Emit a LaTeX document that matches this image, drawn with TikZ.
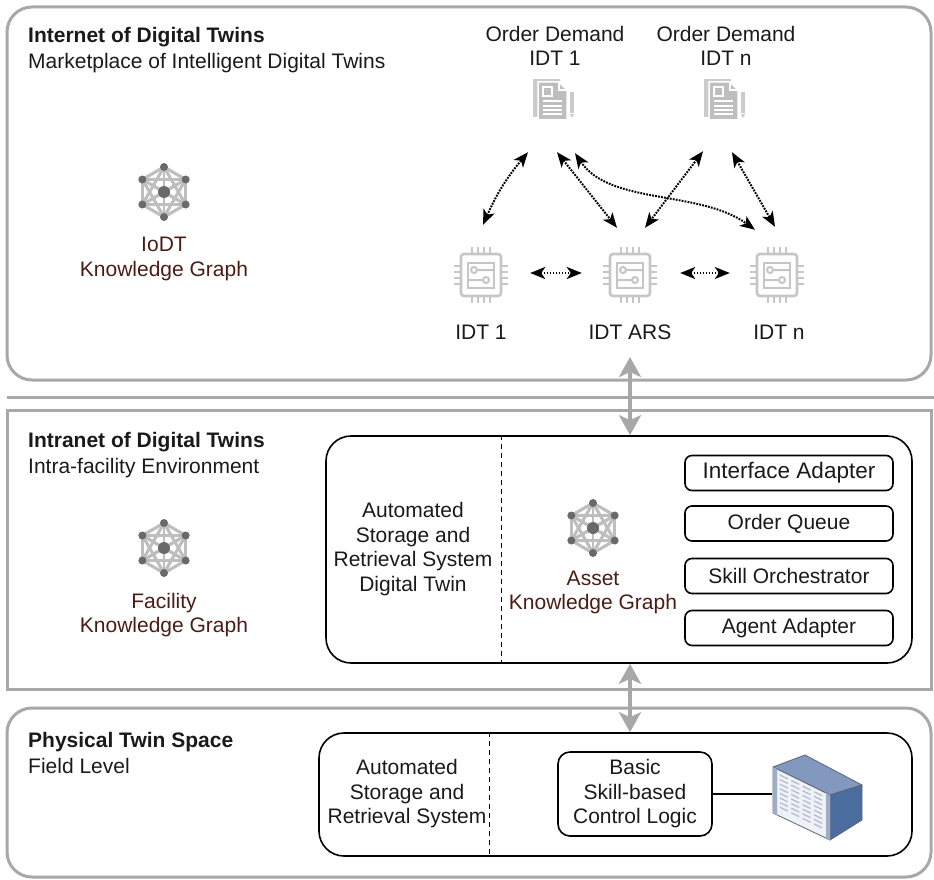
\documentclass[tikz,border=0pt]{standalone}
\usepackage{fontspec}
\setmainfont{Liberation Sans}
\usetikzlibrary{arrows.meta,calc}

\definecolor{boxgray}{HTML}{A8A8A8}
\definecolor{icongray}{HTML}{C6C6C6}
\definecolor{docback}{HTML}{CBCBCB}
\definecolor{docfront}{HTML}{BEBEBE}
\definecolor{kgedge}{HTML}{BEBEBE}
\definecolor{kgnode}{HTML}{696969}
\definecolor{kgtext}{HTML}{4B1C14}
\definecolor{txt}{HTML}{1A1A1A}
\definecolor{srvtop}{HTML}{8398BF}
\definecolor{srvside}{HTML}{4A6C9E}
\definecolor{srvfront}{HTML}{EEF1F6}
\definecolor{srvvent}{HTML}{B4BDCF}
\definecolor{srvedge}{HTML}{5C6675}

\tikzset{
  plain/.style={font=\fontsize{21}{24.5}\selectfont, text=txt, inner sep=0pt},
  layertitle/.style={plain, font=\fontsize{21}{24.5}\selectfont\bfseries, anchor=base west},
  layersub/.style={plain, anchor=base west},
  txtc/.style={plain, align=center},
  kgtxt/.style={plain, align=center, text=kgtext},
  layerbox/.style={draw=boxgray, line width=3pt},
  panel/.style={draw=black, line width=1.6pt, rounded corners=25pt, inner sep=0pt},
  module/.style={plain, draw=black, line width=1.6pt, rounded corners=7pt,
    minimum width=208pt, minimum height=35pt},
  divider/.style={black, line width=1.4pt, dash pattern=on 5pt off 4pt},
  link/.style={black, line width=2pt, dash pattern=on 1.8pt off 1.2pt,
    {Stealth[length=15pt,width=12pt,inset=4pt]}-{Stealth[length=15pt,width=12pt,inset=4pt]}},
  port/.style={boxgray, line width=4pt,
    {Stealth[length=20pt,width=22pt,inset=5pt]}-{Stealth[length=20pt,width=22pt,inset=5pt]}},
  spot/.style={inner sep=0pt, minimum width=#1, minimum height=#1},
  % knowledge graph glyph: hexagon with every pair of vertices joined
  kgicon/.pic={
    \foreach \i in {0,...,5}{
      \foreach \j in {0,...,5}{
        \draw[kgedge, line width=2.8pt] ({90+60*\i}:25) -- ({90+60*\j}:25);
      }
      \draw[kgedge, line width=2.8pt] (0,0) -- ({90+60*\i}:25);
    }
    \foreach \i in {0,...,5}{\fill[kgnode] ({90+60*\i}:25) circle (4pt);}
    \fill[kgnode] (0,0) circle (6pt);
  },
  % microchip glyph
  chipicon/.pic={
    \draw[icongray, line width=2.6pt, rounded corners=3pt] (-20,-21) rectangle (20,21);
    \foreach \t in {-9,-3,3,9}{
      \draw[icongray, line width=2.2pt] (\t,-21) -- (\t,-28) (\t,21) -- (\t,28)
        (-20,\t) -- (-27,\t) (20,\t) -- (27,\t);
    }
    \draw[icongray, line width=2.2pt] (-13,-12) rectangle (13,13);
    \draw[icongray, line width=2pt] (-7,-5) circle (3pt) (-4,-5) -- (13,-5)
      (5,5) circle (3pt) (-13,5) -- (2,5);
  },
  % document glyph
  docicon/.pic={
    \fill[docback] (-20,-19) rectangle (7,19);
    \filldraw[fill=docfront, draw=white, line width=1.5pt]
      (-15,-16) -- (6,-16) -- (14,-8) -- (14,22) -- (-15,22) -- cycle;
    \draw[white, line width=1.2pt] (6,-16) -- (6,-8) -- (14,-8);
    \draw[white, line width=1.2pt] (-10,-11) rectangle (-1,-2);
    \foreach \yy in {3,8,12,16}{\draw[white, line width=1.3pt] (-10,\yy) -- (9,\yy);}
    \fill[docback] (17,-6) rectangle (21,15);
    \fill[docback] (17,16) -- (21,16) -- (19,20) -- cycle;
  },
}

\begin{document}
\begin{tikzpicture}[x=1pt,y=-1pt]
\useasboundingbox (0,0) rectangle (934,880);

% ---------- layer frames ----------
\draw[layerbox, rounded corners=25pt] (7,7) rectangle (931,380);
\draw[layerbox] (7,397) -- (934,397);
\draw[layerbox] (7,410) rectangle (931,689);
\draw[layerbox, rounded corners=25pt] (7,708) rectangle (931,877);

% ---------- Internet of Digital Twins ----------
\node[layertitle] (t1) at (28,43) {Internet of Digital Twins};
\node[layersub] (s1) at (28,69) {Marketplace of Intelligent Digital Twins};

\pic at (164,192) {kgicon};
\node[spot=56pt] (kg1) at (164,192) {};
\node[kgtxt] (kg1t) at (164,259) {IoDT\\Knowledge Graph};

\node[txtc] (od1t) at (555,46) {Order Demand\\IDT 1};
\node[txtc] (odnt) at (726,46) {Order Demand\\IDT n};
\pic at (553,98) {docicon};
\pic at (724,98) {docicon};
\node[spot=42pt] (doc1) at (553,99) {};
\node[spot=42pt] (docn) at (724,99) {};

\pic at (481,275) {chipicon};
\pic at (630,275) {chipicon};
\pic at (777,275) {chipicon};
\node[spot=56pt] (chip1) at (481,275) {};
\node[spot=56pt] (chipA) at (630,275) {};
\node[spot=56pt] (chipN) at (777,275) {};
\node[txtc] (c1t) at (481,332) {IDT 1};
\node[txtc] (cAt) at (630,332) {IDT ARS};
\node[txtc] (cNt) at (779,332) {IDT n};

% dotted links between demands and twins
\draw[link] ($(chip1.north)+(2,-22)$) to[bend left=8] ($(doc1.south)+(-25,32)$);
\draw[link] ($(doc1.south)+(4,32)$) -- ($(chipA.north)+(-13,-19)$);
\draw[link] ($(doc1.south)+(22,33)$) .. controls +(35,52) and +(-55,-40) .. ($(chipN.north)+(-22,-17)$);
\draw[link] ($(docn.south)+(-21,31)$) -- ($(chipA.north)+(15,-19)$);
\draw[link] ($(docn.south)+(8,32)$) -- ($(chipN.north)+(-2,-20)$);
\draw[link] ($(chip1.east)+(21,-2)$) -- ($(chipA.west)+(-20,-2)$);
\draw[link] ($(chipA.east)+(22,-2)$) -- ($(chipN.west)+(-19,-2)$);

% ---------- Intranet of Digital Twins ----------
\node[layertitle] (t2) at (28,447) {Intranet of Digital Twins};
\node[layersub] (s2) at (28,473) {Intra-facility Environment};

\pic at (164,548) {kgicon};
\node[spot=56pt] (kg2) at (164,548) {};
\node[kgtxt] (kg2t) at (164,615) {Facility\\Knowledge Graph};

\node[panel, minimum width=586pt, minimum height=227pt] (adt) at (619,549.5) {};
\draw[divider] ($(adt.north west)+(176,0)$) -- ($(adt.south west)+(176,0)$);
\node[txtc] (adtt) at (413,549) {Automated\\Storage and\\Retrieval System\\Digital Twin};

\pic at (593,528) {kgicon};
\node[spot=56pt] (kg3) at (593,528) {};
\node[kgtxt] (kg3t) at (593,592.5) {Asset\\Knowledge Graph};

\node[module, font=\fontsize{22.5}{26}\selectfont] (m1) at (789,473) {Interface Adapter};
\node[module] (m2) at (789,523.5) {Order Queue};
\node[module] (m3) at (789,576) {Skill Orchestrator};
\node[module] (m4) at (789,628) {Agent Adapter};

% ---------- Physical Twin Space ----------
\node[layertitle] (t3) at (28,747) {Physical Twin Space};
\node[layersub] (s3) at (28,773) {Field Level};

\node[panel, minimum width=593pt, minimum height=123pt] (fld) at (615.5,794.5) {};
\draw[divider] ($(fld.north west)+(171,0)$) -- ($(fld.south west)+(171,0)$);
\node[txtc] (asrs) at (407,794) {Automated\\Storage and\\Retrieval System};

\node[txtc, draw=black, line width=1.6pt, rounded corners=12pt,
  minimum width=154pt, minimum height=84pt] (ctl) at (635,794) {Basic\\Skill-based\\Control Logic};

% storage rack
\node[spot=0pt, minimum width=90pt, minimum height=86pt] (srv) at (817,794) {};
\filldraw[fill=srvtop, draw=srvedge, line width=0.8pt, line join=round]
  (773,767) -- (805,755) -- (862,785) -- (830,795) -- cycle;
\filldraw[fill=srvside, draw=srvedge, line width=0.8pt, line join=round]
  (830,795) -- (862,785) -- (862,820) -- (830,840) -- cycle;
\filldraw[fill=srvfront, draw=srvedge, line width=0.8pt, line join=round]
  (773,767) -- (830,795) -- (830,840) -- (773,813) -- cycle;
\fill[srvtop!80!white] (773,767) -- (777,769) -- (777,815) -- (773,813) -- cycle;
\fill[srvtop!80!white] (826,793) -- (830,795) -- (830,840) -- (826,838) -- cycle;
\foreach \c in {0,1,2,3}{
  \foreach \r in {0,...,7}{
    \draw[srvvent, line width=1.3pt]
      ({773+57*(0.12+0.2*\c)},{767+28*(0.12+0.2*\c)+46*(0.1+0.1*\r)}) --
      ({773+57*(0.26+0.2*\c)},{767+28*(0.26+0.2*\c)+46*(0.1+0.1*\r)});
  }
}
\draw[black, line width=1.6pt] (ctl.east) -- (srv.west);

% ---------- links between layers ----------
\coordinate (uplink) at (630,357);
\draw[port] (uplink) -- (uplink |- adt.north);
\draw[port] (uplink |- adt.south) -- (uplink |- fld.north);

\end{tikzpicture}
\end{document}
